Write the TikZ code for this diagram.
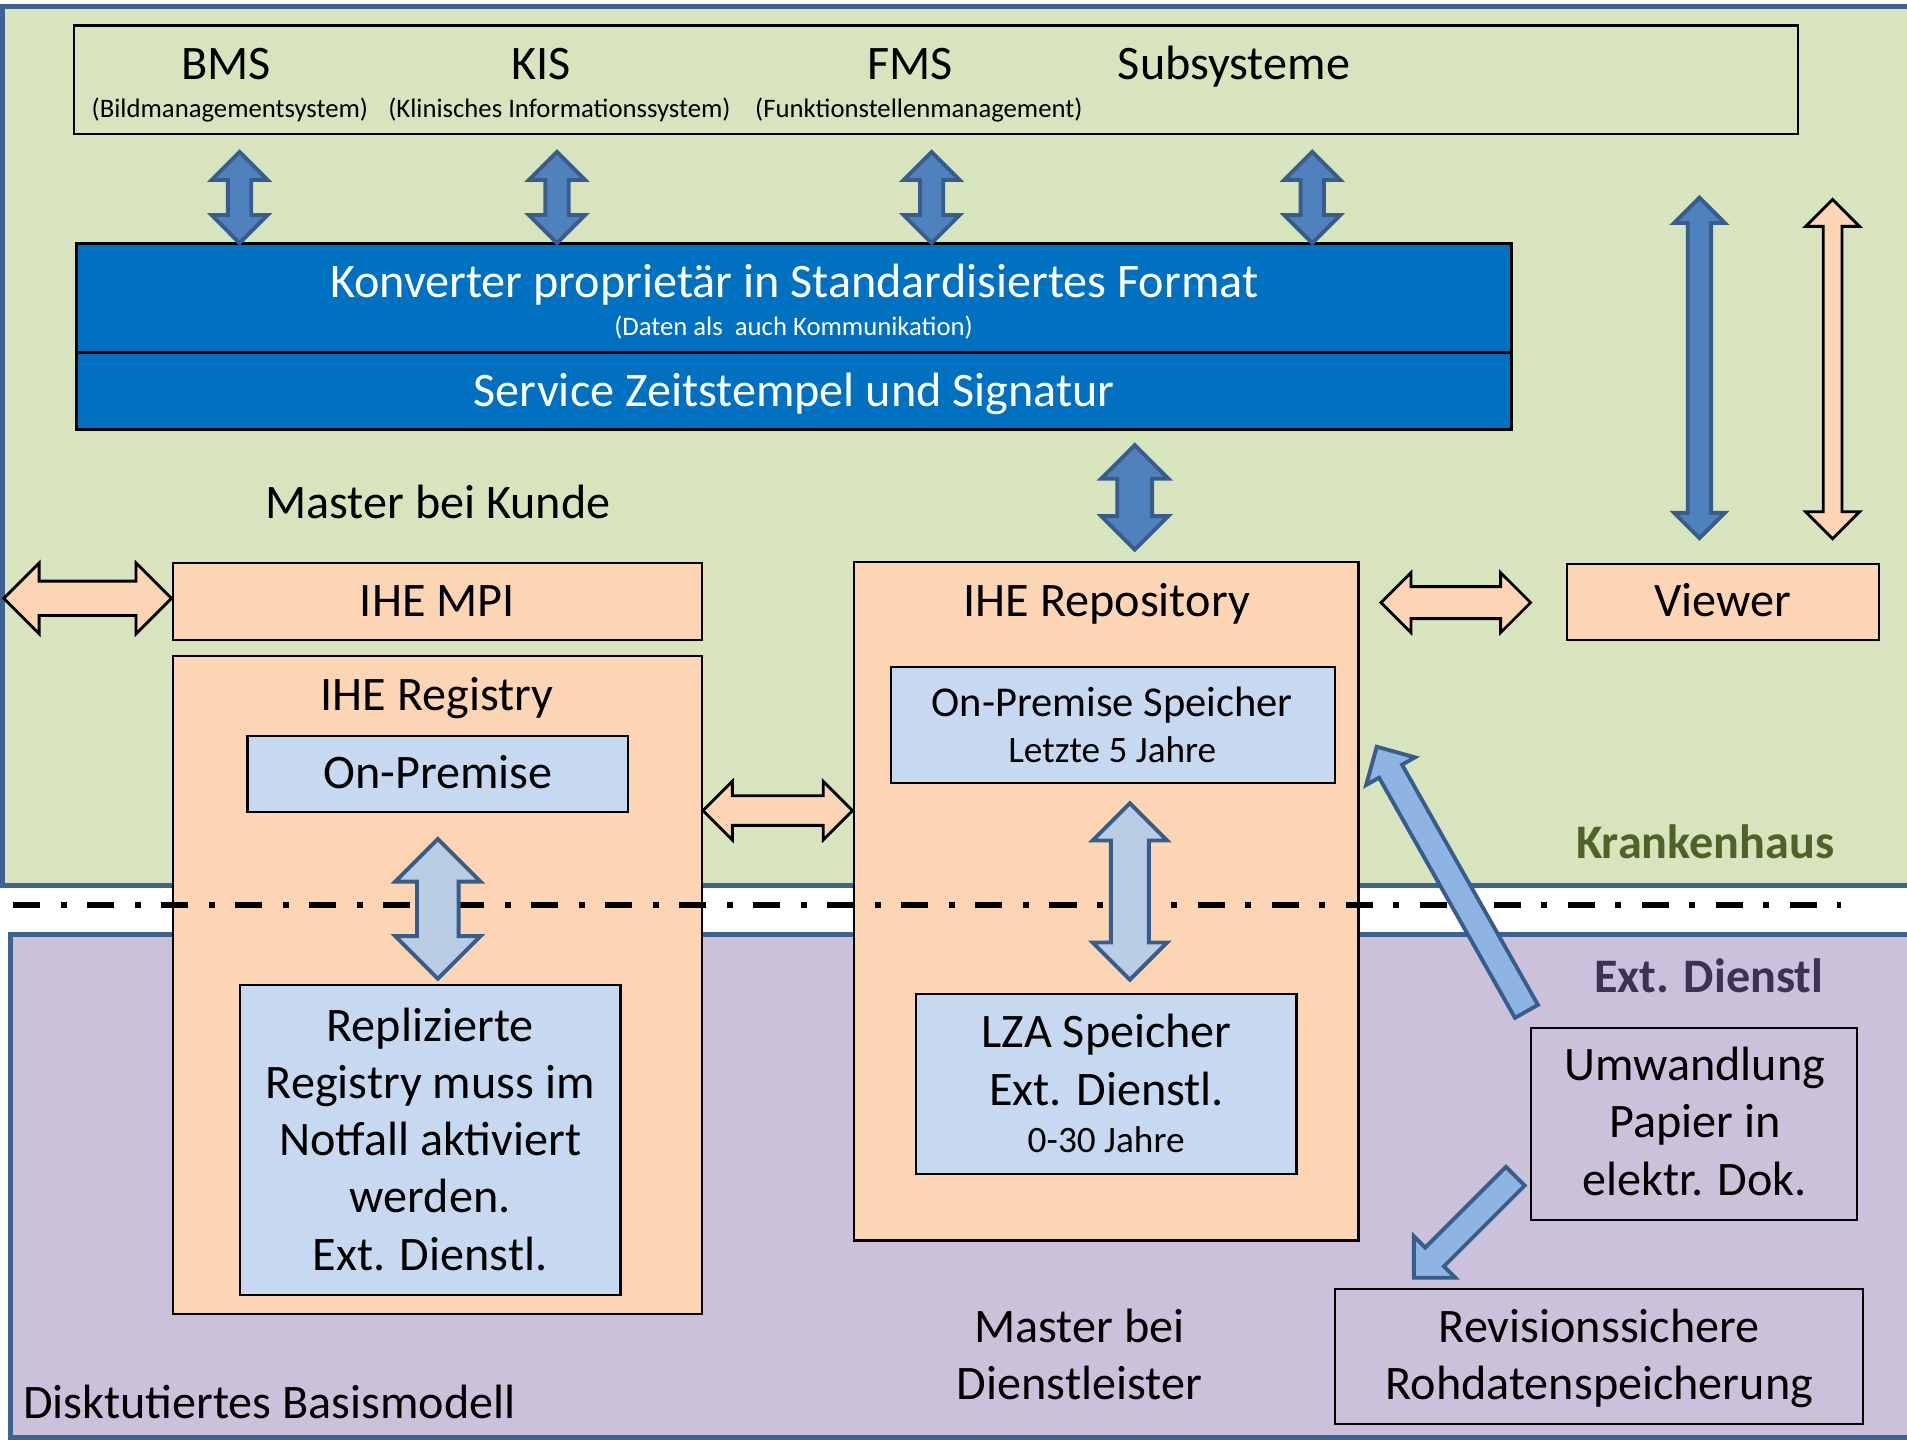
\documentclass[tikz,border=0pt]{standalone}
\usepackage{fontspec}
\setmainfont{Carlito}
\usepackage{xcolor}
\definecolor{hausgreen}{HTML}{D7E4BD}
\definecolor{dienstlila}{HTML}{CCC1DA}
\definecolor{frameblue}{HTML}{3E6393}
\definecolor{konvblue}{HTML}{0070C0}
\definecolor{peach}{HTML}{FCD5B5}
\definecolor{paleblue}{HTML}{C6D9F1}
\definecolor{arrblue}{HTML}{4F81BD}
\definecolor{arrline}{HTML}{385D8A}
\definecolor{softblue}{HTML}{B9CDE5}
\definecolor{skyblue}{HTML}{8EB4E3}
\definecolor{olive}{HTML}{4F6228}
\definecolor{plum}{HTML}{3F3151}
\usepackage{tikz}
\usetikzlibrary{shapes.arrows}
\newcommand{\pxl}{0.12162mm}
\newcommand{\bigtxt}{\fontsize{13.7}{16.3}\selectfont}
\newcommand{\speichertxt}{\fontsize{12.1}{14}\selectfont}
\newcommand{\smalltxt}{\fontsize{7.6}{9}\selectfont}
\newcommand{\midtxt}{\fontsize{10.6}{12}\selectfont}

\begin{document}
\begin{tikzpicture}[
    x=\pxl, y=-\pxl,
    every node/.style={font=\bigtxt, inner sep=0pt, outer sep=0pt},
    txt/.style={anchor=base, align=center},
    box/.style n args={3}{draw=black, fill=#1, line width=0.6pt,
      minimum width=#2*\pxl, minimum height=#3*\pxl},
    dbl/.style n args={3}{double arrow, minimum height=#1*\pxl,
      inner xsep=0pt, inner ysep=#2*0.5*\pxl,
      double arrow head extend=(#3-#2)*0.5*\pxl},
    sgl/.style n args={3}{single arrow, anchor=tip, minimum height=#1*\pxl,
      inner xsep=0pt, inner ysep=#2*0.5*\pxl,
      single arrow head extend=(#3-#2)*0.5*\pxl},
    bluearr/.style={draw=arrline, fill=arrblue, line width=1.1pt},
    peacharr/.style={draw=black, fill=peach, line width=0.8pt},
    softarr/.style={draw=arrline, fill=softblue, line width=1.1pt},
    skyarr/.style={draw=arrline, fill=skyblue, line width=1.1pt},
    region/.style={draw=frameblue, line width=1.4pt},
    sepline/.style={line width=1.7pt, dash pattern=on 2.7mm off 2.05mm on 0.6mm off 2.05mm},
  ]
  \useasboundingbox[fill=white] (0,0) rectangle (1568,1184);
  % Krankenhaus oben, Dienstleister unten
  \draw[region, fill=hausgreen] (2,5.5) rectangle (1590,728);
  \draw[region, fill=dienstlila] (9,768) rectangle (1590,1182);

  % Subsysteme
  \node[box={hausgreen}{1417}{89}] (subsys) at (769.5,65.5) {};
  \node[txt] (bms) at (186,65) {BMS};
  \node[txt, font=\smalltxt] (bmsname) at (189,96.5) {(Bildmanagementsystem)};
  \node[txt] (kis) at (445,65) {KIS};
  \node[txt, font=\smalltxt] (kisname) at (460,96.5) {(Klinisches Informationssystem)};
  \node[txt] (fms) at (748,65) {FMS};
  \node[txt, font=\smalltxt] (fmsname) at (755.5,96.5) {(Funktionstellenmanagement)};
  \node[txt] (subsyst) at (1014.6,65) {Subsysteme};

  % Konverter und Service
  \node[box={konvblue}{1180}{90}, line width=0.8pt] (konv) at (653,245) {};
  \node[txt, text=white] (konvt) at (653,244.8) {Konverter proprietär in Standardisiertes Format};
  \node[txt, text=white, font=\smalltxt] (konvsub) at (652.5,275.5) {(Daten als\ \ auch Kommunikation)};
  \node[box={konvblue}{1180}{63}, line width=0.8pt] (serv) at (653,321.5) {};
  \node[txt, text=white] (servt) at (653,334.4) {Service Zeitstempel und Signatur};

  \node[txt] (kunde) at (360,426) {Master bei Kunde};

  % Registry
  \node[box={peach}{435}{63}] (mpi) at (359.5,494.5) {};
  \node[txt] (mpit) at (359.5,507) {IHE MPI};
  \node[box={peach}{435}{541}] (reg) at (359.5,810.2) {};
  \node[txt] (regt) at (359.5,584) {IHE Registry};
  \node[box={paleblue}{313}{63}] (regop) at (360,636.3) {};
  \node[txt] (regopt) at (360,648) {On-Premise};
  \node[box={paleblue}{313}{255}] (repl) at (353.7,937.6) {};
  \node[txt] (replt) at (353.7,1044.4) {Replizierte\\Registry muss im\\Notfall aktiviert\\werden.\\Ext. Dienstl.};

  % Repository
  \node[box={peach}{415}{558}] (repo) at (909.5,741) {};
  \node[txt] (repot) at (910,507) {IHE Repository};
  \node[box={paleblue}{365}{95}] (opsp) at (914.8,596) {};
  \node[txt, font=\speichertxt] (opspt) at (914.5,589.3) {On-Premise Speicher};
  \node[txt, font=\midtxt] (opspsub) at (914.5,627) {Letzte 5 Jahre};
  \node[box={paleblue}{313}{148}] (lza) at (909.5,891) {};
  \node[txt] (lzat) at (910,908.6) {LZA Speicher\\Ext. Dienstl.};
  \node[txt, font=\midtxt] (lzasub) at (909.5,948) {0-30 Jahre};

  \node[box={peach}{257}{63}] (viewer) at (1416.7,495) {};
  \node[txt] (viewert) at (1416.5,507) {Viewer};

  % Dienstleister
  \node[box={dienstlila}{268}{158}] (umw) at (1393,924) {};
  \node[txt] (umwt) at (1393.5,982.6) {Umwandlung\\Papier in\\elektr. Dok.};
  \node[box={dienstlila}{434}{111}] (rev) at (1315,1115.5) {};
  \node[txt] (revt) at (1315,1151) {Revisionssichere\\Rohdatenspeicherung};
  \node[txt] (mdl) at (887.5,1151) {Master bei\\Dienstleister};
  \node[txt, anchor=base west] (basis) at (19,1166) {Disktutiertes Basismodell};
  \node[txt, text=olive, font=\bigtxt\bfseries] (haus) at (1402,706) {Krankenhaus};
  \node[txt, text=plum, font=\bigtxt\bfseries] (extd) at (1405,816) {Ext. Dienstl};

  % Grenze Krankenhaus / Dienstleister
  \draw[sepline] (11,744.5) -- (1514,744.5);

  % Pfeile
  \foreach \ax [count=\i] in {197,458,766,1079}
    \node[dbl={75}{16}{43}, bluearr, rotate=90] (link\i) at (\ax,162.4) {};
  \node[dbl={86}{25.5}{52}, bluearr, rotate=90] (servlink) at (933,409) {};
  \node[dbl={280}{16}{38.5}, bluearr, rotate=90] (viewlink) at (1397.3,302.5) {};
  \node[dbl={279}{13}{42}, peacharr, rotate=90] (viewlink2) at (1506.8,303.5) {};
  \node[dbl={138}{26}{56}, peacharr] (mpilink) at (72,492) {};
  \node[dbl={123}{22}{46}, peacharr] (reglink) at (639.5,666.5) {};
  \node[dbl={123}{24}{47}, peacharr] (viewlink3) at (1197,495.5) {};
  \node[dbl={115}{31}{67}, softarr, rotate=90] (replink) at (360,747.3) {};
  \node[dbl={145}{28}{58}, softarr, rotate=90] (lzalink) at (929,733) {};
  \node[sgl={250}{18.5}{43}, skyarr, rotate=119.5] (scanup) at (1132,614) {};
  \node[sgl={118}{18.5}{45}, skyarr, rotate=225] (scandown) at (1162.5,1050.6) {};
\end{tikzpicture}
\end{document}
